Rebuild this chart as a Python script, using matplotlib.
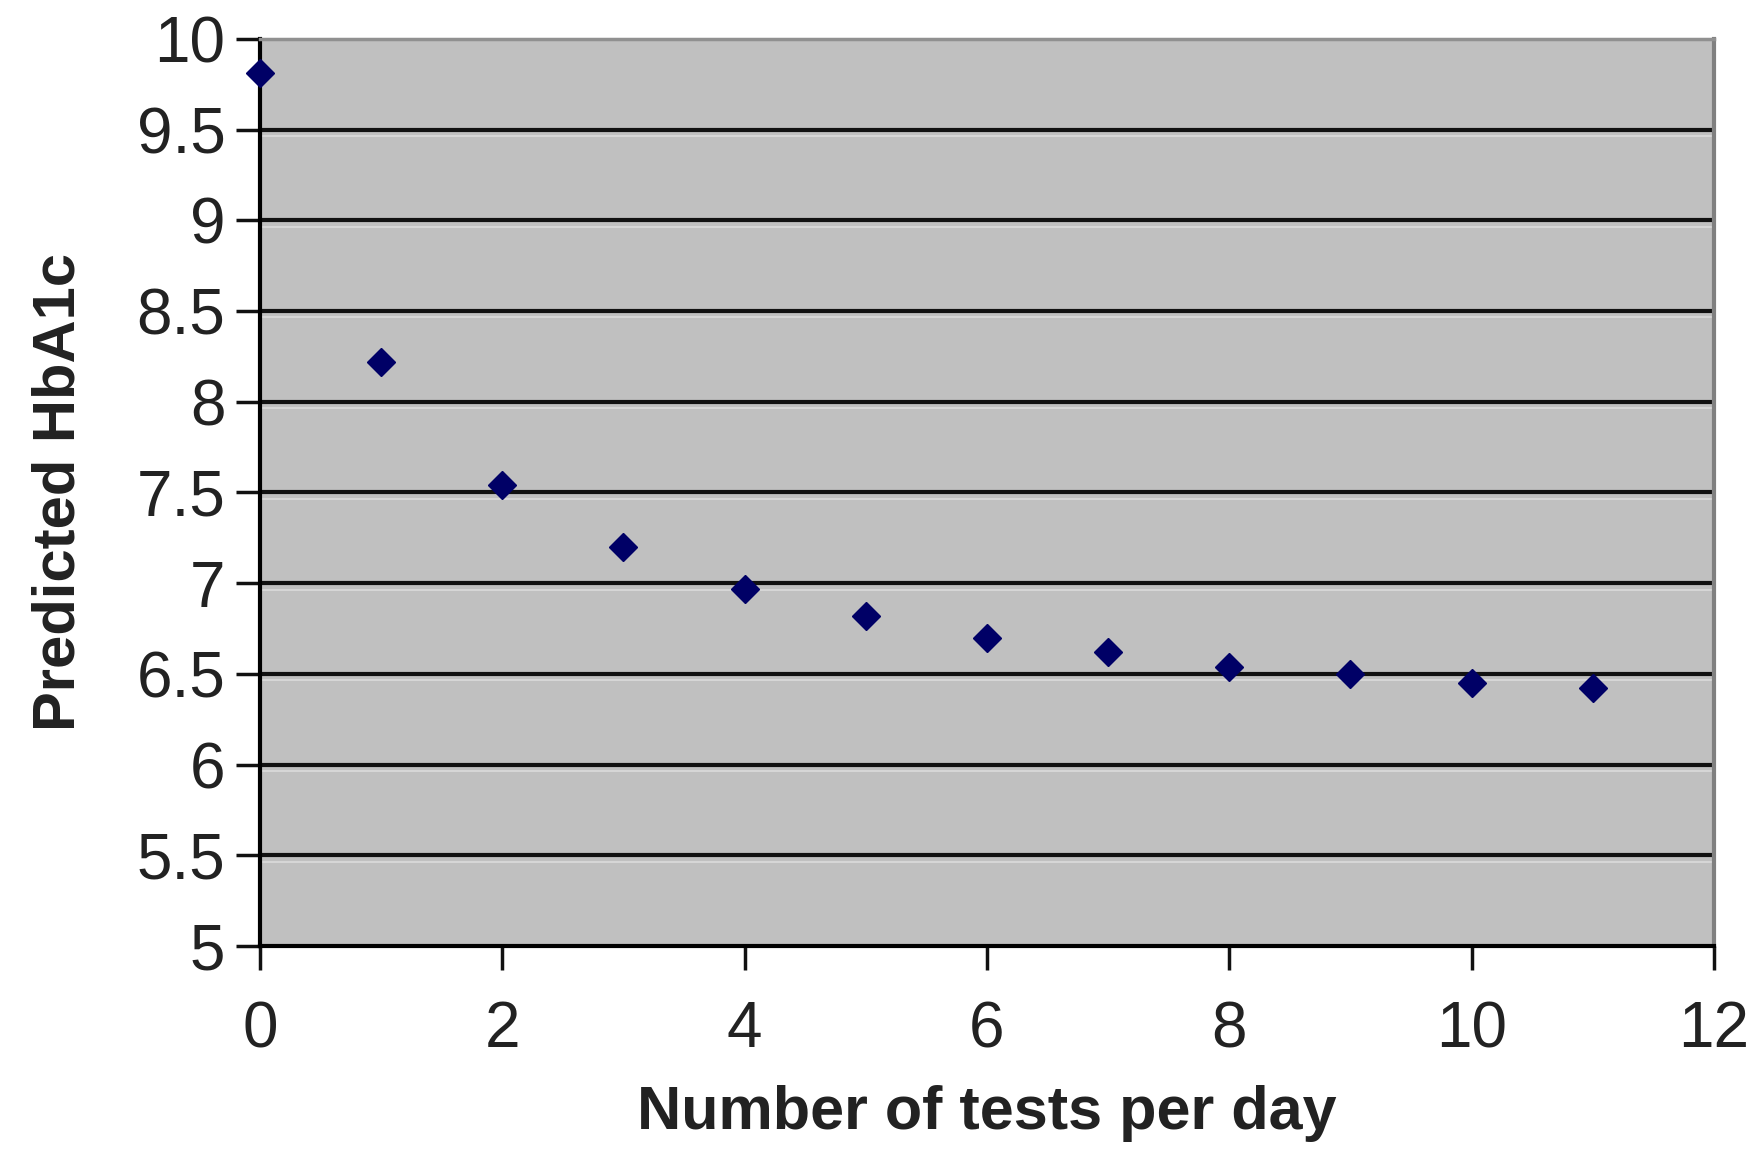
import matplotlib
matplotlib.use("Agg")
import matplotlib.pyplot as plt
import numpy as np

# values
tests_per_day = [0, 1, 2, 3, 4, 5, 6, 7, 8, 9, 10, 11]
predicted_hba1c = [9.81, 8.22, 7.54, 7.20, 6.97, 6.82, 6.70, 6.62, 6.54, 6.50, 6.45, 6.42]

x_ticks = [0, 2, 4, 6, 8, 10, 12]
y_ticks = [5, 5.5, 6, 6.5, 7, 7.5, 8, 8.5, 9, 9.5, 10]
y_tick_labels = ["5", "5.5", "6", "6.5", "7", "7.5", "8", "8.5", "9", "9.5", "10"]

font = ["Liberation Sans", "DejaVu Sans"]
plt.rcParams['font.family'] = font

fig = plt.figure(figsize=(17.59, 11.73), dpi=100)
ax = fig.add_axes([0.1478, 0.1935, 0.8266, 0.7733])
ax.set_facecolor("#c0c0c0")

ax.set_xlim(0, 12)
ax.set_ylim(5, 10)

# horizontal gridlines like the old spreadsheet chart
for yv in y_ticks[1:-1]:
    ax.axhline(yv, color="#111111", lw=3, zorder=1)
    ax.axhline(yv - 0.035, color="#d6d6d6", lw=1.5, zorder=1)

ax.plot(tests_per_day, predicted_hba1c, linestyle="none", marker="D",
        markersize=14, color="#000066", zorder=3, clip_on=False)

ax.set_xticks(x_ticks)
ax.set_xticklabels([str(v) for v in x_ticks])
ax.set_yticks(y_ticks)
ax.set_yticklabels(y_tick_labels)

ax.tick_params(axis="both", direction="out", length=17, width=2.5,
               color="#111111", labelcolor="#222222", labelsize=46)
ax.tick_params(axis="x", pad=22)
ax.tick_params(axis="y", pad=8)

for side in ["left", "bottom"]:
    ax.spines[side].set_color("#000000")
    ax.spines[side].set_linewidth(3)
ax.spines["right"].set_color("#808080")
ax.spines["right"].set_linewidth(3)
ax.spines["top"].set_color("#909090")
ax.spines["top"].set_linewidth(2.5)

ax.set_xlabel("Number of tests per day", fontsize=44, fontweight="bold",
              labelpad=18, color="#222222")
ax.set_ylabel("Predicted HbA1c", fontsize=43, fontweight="bold",
              labelpad=36, color="#222222")

fig.savefig("out.png", dpi=100, facecolor="white")
